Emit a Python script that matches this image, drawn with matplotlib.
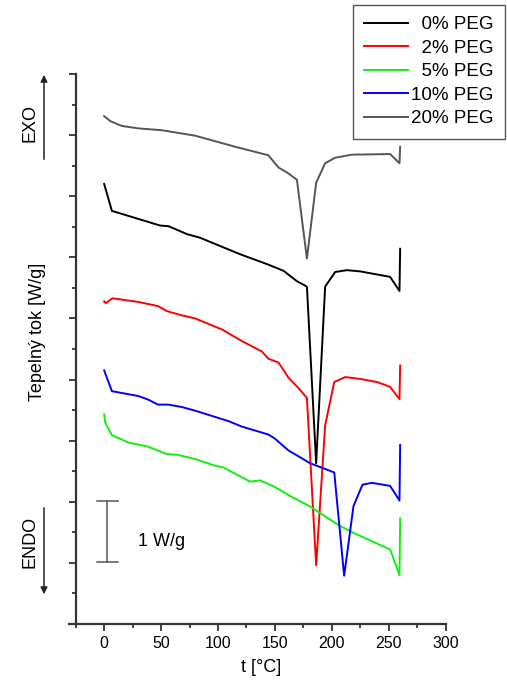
import matplotlib
matplotlib.use("Agg")
import matplotlib.pyplot as plt
from matplotlib.ticker import MultipleLocator
from matplotlib.patches import FancyArrowPatch

plt.rcParams['font.family'] = ['Liberation Sans', 'DejaVu Sans']

# ---- data (t in °C, heat flow in W/g with arbitrary vertical offsets) ----
t_0 = [0, 6.8, 40.4, 49.2, 56.5, 72.7, 84.3, 119.5, 142.9, 157.5, 169.3, 178.1,
       186.2, 194.1, 202.9, 213.2, 224.9, 251.2, 259.4, 260]
hf_0 = [7.20, 6.76, 6.57, 6.52, 6.51, 6.38, 6.32, 6.05, 5.89, 5.78, 5.61, 5.52,
        2.63, 5.52, 5.76, 5.79, 5.77, 5.68, 5.45, 6.14]

t_2 = [0, 1.5, 7.3, 30.1, 47.7, 55.1, 68.3, 80, 103.4, 121, 138.5, 144.3, 153.1,
       161.9, 170.7, 178.1, 186.2, 194.1, 202.1, 211.7, 224.9, 239.6, 251.2, 259.4, 260]
hf_2 = [5.28, 5.25, 5.33, 5.27, 5.20, 5.12, 5.05, 5.00, 4.82, 4.63, 4.46, 4.34, 4.28,
        4.03, 3.86, 3.70, 0.96, 3.25, 3.96, 4.04, 4.01, 3.96, 3.88, 3.68, 4.23]

t_5 = [0, 0.9, 6.8, 21.3, 38.9, 55.1, 63.9, 80, 97.5, 104.8, 128.3, 137, 150.2,
       161.9, 181, 205.8, 219, 251.2, 259.4, 260]
hf_5 = [3.43, 3.30, 3.09, 2.97, 2.90, 2.78, 2.77, 2.70, 2.59, 2.56, 2.33, 2.35, 2.24,
        2.11, 1.92, 1.62, 1.49, 1.22, 0.80, 1.73]

t_10 = [0, 6.8, 30.1, 38.9, 47.2, 56.5, 68.3, 80, 109.2, 121, 144.3, 150.2, 161.9,
        181, 202.1, 210.8, 219, 226.9, 235.2, 251.2, 259.4, 260]
hf_10 = [4.15, 3.81, 3.73, 3.67, 3.59, 3.59, 3.55, 3.49, 3.32, 3.23, 3.10, 3.03, 2.84,
         2.63, 2.48, 0.79, 1.93, 2.28, 2.31, 2.26, 2.02, 2.93]

t_20 = [0, 5.3, 15.5, 30.1, 50.7, 80, 115, 144.3, 153.1, 160.5, 169.3, 178.1,
        186.2, 194.1, 202.9, 217.6, 251.2, 259.4, 260]
hf_20 = [8.31, 8.23, 8.15, 8.11, 8.08, 7.99, 7.81, 7.67, 7.47, 7.39, 7.27, 5.98,
         7.22, 7.54, 7.63, 7.68, 7.69, 7.54, 7.81]

labels = ["  0% PEG", "  2% PEG", "  5% PEG", "10% PEG", "20% PEG"]
colors = ["#000000", "#ff0000", "#11ee11", "#0000ff", "#555555"]

# scale bar: 1 W/g
scale_t = 2.9
scale_y0 = 1.02
scale_y1 = 2.02

W, H = 507, 684
fig = plt.figure(figsize=(W / 100, H / 100), dpi=100)
ax = fig.add_axes([75.7 / W, 1 - 624 / H, (445.7 - 75.7) / W, (624 - 74) / H])

series = [(t_0, hf_0), (t_2, hf_2), (t_5, hf_5), (t_10, hf_10), (t_20, hf_20)]
for (tt, hh), lab, c in zip(series, labels, colors):
    ax.plot(tt, hh, color=c, lw=1.4, label=lab)

ax.set_xlim(-25, 300)
ax.set_ylim(0, 9)
ax.xaxis.set_major_locator(MultipleLocator(50))
ax.xaxis.set_minor_locator(MultipleLocator(25))
ax.yaxis.set_major_locator(MultipleLocator(1))
ax.yaxis.set_minor_locator(MultipleLocator(0.5))
ax.tick_params(axis='y', which='both', labelleft=False)
ax.tick_params(axis='both', which='major', length=5, width=1.3, color='#333333',
               labelsize=11.5)
ax.tick_params(axis='both', which='minor', length=3, width=1.3, color='#333333')
for side in ['top', 'right']:
    ax.spines[side].set_visible(False)
for side in ['left', 'bottom']:
    ax.spines[side].set_linewidth(1.6)
    ax.spines[side].set_color('#333333')
ax.spines['bottom'].set_bounds(-31, 300)

ax.set_xlabel("t [°C]", fontsize=13, labelpad=6)

# scale bar
ax.plot([scale_t, scale_t], [scale_y0, scale_y1], color='#555555', lw=1.1)
ax.plot([scale_t - 9.5, scale_t + 9.5], [scale_y0, scale_y0], color='#555555', lw=1.1)
ax.plot([scale_t - 9.5, scale_t + 9.5], [scale_y1, scale_y1], color='#555555', lw=1.1)
ax.text(scale_t + 27, (scale_y0 + scale_y1) / 2 - 0.17, "1 W/g", fontsize=13,
        va='center', ha='left')

# y label and EXO / ENDO markers
fig.text(38 / W, 1 - 332 / H, "Tepelný tok [W/g]", rotation=90, fontsize=13,
         ha='center', va='center')
fig.text(30 / W, 1 - 123 / H, "EXO", rotation=90, fontsize=13, ha='center', va='center')
fig.text(30 / W, 1 - 542 / H, "ENDO", rotation=90, fontsize=13, ha='center', va='center')
fig.patches.append(FancyArrowPatch((44 / W, 1 - 162 / H), (44 / W, 1 - 72 / H),
                                   transform=fig.transFigure, arrowstyle='-|>',
                                   mutation_scale=10, color='#222222', lw=1.1))
fig.patches.append(FancyArrowPatch((44 / W, 1 - 505 / H), (44 / W, 1 - 597 / H),
                                   transform=fig.transFigure, arrowstyle='-|>',
                                   mutation_scale=10, color='#222222', lw=1.1))

leg = ax.legend(loc='upper right', bbox_to_anchor=(505 / W, 1 - 5 / H),
                bbox_transform=fig.transFigure, borderaxespad=0, fontsize=13.5,
                frameon=True, fancybox=False, edgecolor='#555555', framealpha=1,
                handlelength=2.3, handletextpad=0.2, labelspacing=0.34,
                borderpad=0.6)
leg.get_frame().set_linewidth(1.0)

fig.savefig("out.png", dpi=100)
